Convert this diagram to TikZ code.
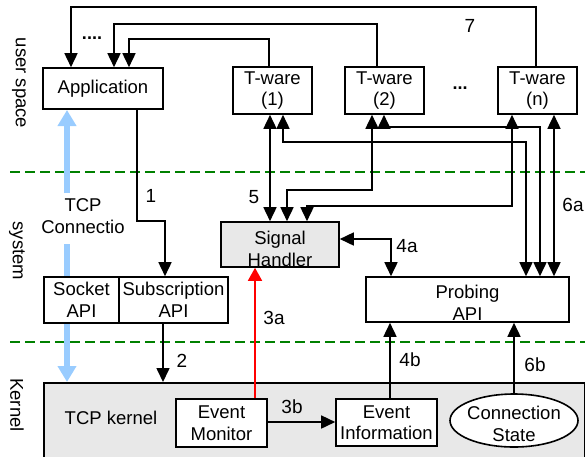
\documentclass[tikz,border=0pt]{standalone}
\usepackage{fontspec}
\setmainfont{Liberation Sans}
\usetikzlibrary{arrows.meta,shapes.geometric,calc}
\definecolor{lgray}{RGB}{232,232,232}
\definecolor{lblue}{RGB}{153,204,255}
\definecolor{dgreen}{RGB}{0,128,0}
\begin{document}
\begin{tikzpicture}[x=1pt,y=-1pt,
  every node/.style={font=\fontsize{18.5pt}{21.5pt}\selectfont, inner sep=0pt},
  box/.style={draw, line width=1.6pt, fill=white, align=center},
  gbox/.style={box, fill=lgray},
  arr/.style={line width=1.6pt, -{Triangle[length=14pt,width=13pt]}},
  dbl/.style={line width=1.6pt, {Triangle[length=14pt,width=13pt]}-{Triangle[length=14pt,width=13pt]}},
  redarr/.style={line width=1.6pt, red, -{Triangle[length=13pt,width=14pt]}},
  bl/.style={line width=6.5pt, lblue},
  blarr/.style={bl, -{Triangle[length=16pt,width=18pt]}},
  gdash/.style={line width=1.6pt, dgreen, dash pattern=on 10pt off 5pt},
  lbl/.style={font=\fontsize{19pt}{21pt}\selectfont}
]
\path[use as bounding box] (0,0) rectangle (585,456);
\clip (0,0) rectangle (585,456);

% layer separators
\draw[gdash] (10,172) -- (585,172);
\draw[gdash] (10,342) -- (585,342);

% side labels
\node[rotate=-90] (us) at (19,83) {user space};
\node[rotate=-90] (sys) at (17,251) {system};
\node[rotate=-90] (ker) at (17,405) {Kernel};

% kernel box
\node[gbox, minimum width=541pt, minimum height=100pt, anchor=north west] (kern) at (43,382) {};
\node (tcpk) at (111,418) {TCP kernel};

% blue TCP connection
\node[align=center] (tcpc) at (83,216) {TCP\\Connectio};
\draw[blarr] (67,193) -- (67,110);

% boxes
\node[box, minimum width=120pt, minimum height=41pt] (app) at (103,88.5) {Application};
\node[box, minimum width=79pt, minimum height=47pt] (tw1) at (272.5,90.5) {T-ware\\(1)};
\node[box, minimum width=79pt, minimum height=47pt] (tw2) at (384.5,90.5) {T-ware\\(2)};
\node[box, minimum width=79pt, minimum height=47pt] (twn) at (537.5,90.5) {T-ware\\(n)};
\node[font=\fontsize{18pt}{20pt}\bfseries] (dots2) at (460,88) {...};
\node[font=\fontsize{18pt}{20pt}\bfseries] (dots1) at (92,38) {....};

\draw[bl] (67,244) -- (67,277);
\draw[blarr] (67,323) -- (67,0 |- kern.north);

\node[box, minimum width=75pt, minimum height=46pt] (sock) at (81.5,300) {Socket\\API};
\node[box, minimum width=109pt, minimum height=46pt] (sub) at (173.5,300) {Subscription\\API};
\node[gbox, minimum width=118pt, minimum height=45pt] (sig) at (280,244.5) {};
\node[align=center] (sigt) at (280,249) {Signal\\Handler};
\node[box, minimum width=203pt, minimum height=45pt] (prob) at (467.5,299.5) {};
\node[align=center] (probt) at (467.5,303) {Probing\\API};
\node[box, minimum width=91pt, minimum height=48pt] (evmon) at (221.5,423) {Event\\Monitor};
\node[box, minimum width=101pt, minimum height=47pt] (evinfo) at (386.5,422.5) {Event\\Information};
\node[draw, line width=1.6pt, fill=white, ellipse, minimum width=128pt, minimum height=53pt, align=center] (cs) at (514,420.5) {};
\node[align=center] (cst) at (514,424) {Connection\\State};

% feedback to application (7)
\draw[arr] (269,0 |- tw1.north) |- (129,39) -- (129,0 |- app.north);
\draw[arr] (377,0 |- tw2.north) |- (114,24) -- (114,0 |- app.north);
\draw[arr] (536,0 |- twn.north) |- (71,7) -- (71,0 |- app.north);
\node[lbl] (l7) at (470,26) {7};

% 1 and 2
\draw[arr] (137,0 |- app.south) |- (165,221) -- (165,0 |- sub.north);
\node[lbl] (l1) at (151,196) {1};
\draw[arr] (163,0 |- sub.south) -- (163,0 |- kern.north);
\node[lbl] (l2) at (182,361) {2};

% 5: T-ware to signal handler
\draw[dbl] (270,0 |- tw1.south) -- (270,0 |- sig.north);
\draw[dbl] (372,0 |- tw2.south) |- (287,190) -- (287,0 |- sig.north);
\draw[dbl] (512,0 |- twn.south) |- (307,206) -- (307,0 |- sig.north);
\node[lbl] (l5) at (254,197) {5};

% 6a: T-ware to probing API
\draw[dbl] (283,0 |- tw1.south) |- (526,142) -- (526,0 |- prob.north);
\draw[dbl] (384,0 |- tw2.south) |- (540,127) -- (540,0 |- prob.north);
\draw[dbl] (554,0 |- twn.south) -- (554,0 |- prob.north);
\node[lbl] (l6a) at (573,205) {6a};

% 4a
\draw[dbl] (sig.east |- 0,239) -| (391,0 |- prob.north);
\node[lbl] (l4a) at (407,246) {4a};

% 3a, 3b
\draw[redarr] (255,0 |- evmon.north) -- (255,0 |- sig.south);
\node[lbl] (l3a) at (274,318) {3a};
\draw[arr] (evmon.east |- 0,422) -- (evinfo.west |- 0,422);
\node[lbl] (l3b) at (292,407) {3b};

% 4b, 6b
\draw[arr] (390,0 |- evinfo.north) -- (390,0 |- prob.south);
\node[lbl] (l4b) at (410,360) {4b};
\draw[arr] (cs.north) -- (cs.north |- prob.south);
\node[lbl] (l6b) at (535,365) {6b};
\end{tikzpicture}
\end{document}
